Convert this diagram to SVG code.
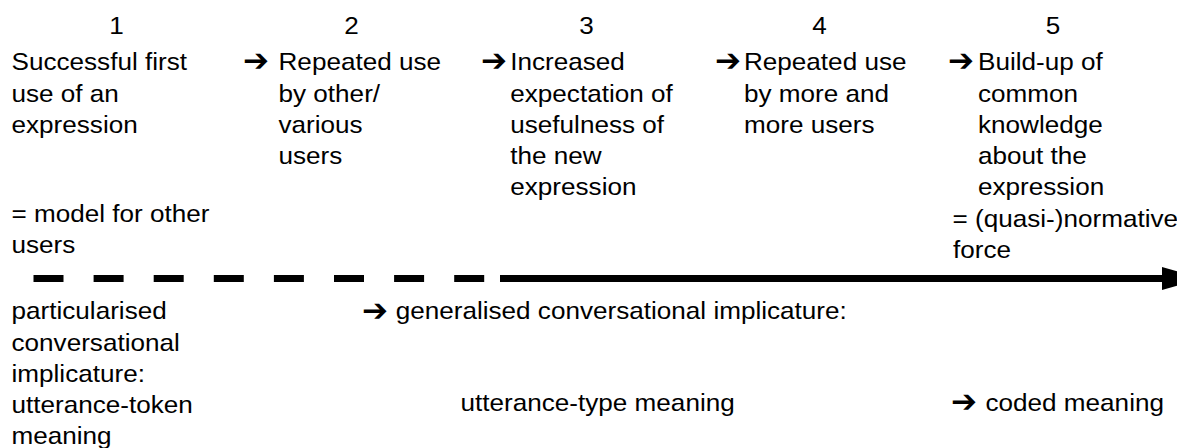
<svg xmlns="http://www.w3.org/2000/svg" width="1177" height="448" viewBox="0 0 1177 448">
<style>
.t{font-family:"Liberation Sans",Arial,sans-serif;font-size:24px;fill:#000}
.n{text-anchor:middle}
.ar{font-family:"DejaVu Sans",sans-serif;font-size:31px;font-weight:bold;fill:#000}
.dash{stroke:#000;stroke-width:7;stroke-dasharray:30 30.1;fill:none}
.solid{stroke:#000;stroke-width:7;fill:none}
</style>
<defs>
<marker id="head" viewBox="0 0 40 23" refX="0" refY="11.5" markerWidth="40" markerHeight="23" markerUnits="userSpaceOnUse" orient="auto">
<path d="M0,0 L40,11.5 L0,23 Z" fill="#000"/>
</marker>
</defs>
<rect width="1177" height="448" fill="#fff"/>

<g id="connectors">
<line class="dash" x1="33.5" y1="278.5" x2="485" y2="278.5"/>
<line class="solid" x1="500" y1="278.5" x2="1162" y2="278.5" marker-end="url(#head)"/>
</g>

<g id="arrows">
<text class="ar" x="243" y="71">➔</text>
<text class="ar" x="481" y="71">➔</text>
<text class="ar" x="715" y="71">➔</text>
<text class="ar" x="948" y="71">➔</text>
<text class="ar" x="362" y="320.5">➔</text>
<text class="ar" x="951" y="412">➔</text>
</g>

<g transform="scale(1.088 1)">
<g id="step1">
<text class="t n" x="107.1" y="34.5">1</text>
<text class="t" x="10.6" y="70.5">Successful first</text>
<text class="t" x="10.6" y="101.8">use of an</text>
<text class="t" x="10.6" y="133">expression</text>
</g>
<g id="step2">
<text class="t n" x="323.1" y="34.5">2</text>
<text class="t" x="256" y="70.5">Repeated use</text>
<text class="t" x="256" y="101.8">by other/</text>
<text class="t" x="256" y="133">various</text>
<text class="t" x="256" y="164.3">users</text>
</g>
<g id="step3">
<text class="t n" x="539.1" y="34.5">3</text>
<text class="t" x="469" y="70.5">Increased</text>
<text class="t" x="469" y="101.8">expectation of</text>
<text class="t" x="469" y="133">usefulness of</text>
<text class="t" x="469" y="164.3">the new</text>
<text class="t" x="469" y="195.5">expression</text>
</g>
<g id="step4">
<text class="t n" x="753.2" y="34.5">4</text>
<text class="t" x="683.8" y="70.5">Repeated use</text>
<text class="t" x="683.8" y="101.8">by more and</text>
<text class="t" x="683.8" y="133">more users</text>
</g>
<g id="step5">
<text class="t n" x="967.8" y="34.5">5</text>
<text class="t" x="898.9" y="70.5">Build-up of</text>
<text class="t" x="898.9" y="101.8">common</text>
<text class="t" x="898.9" y="133">knowledge</text>
<text class="t" x="898.9" y="164.3">about the</text>
<text class="t" x="898.9" y="195.5">expression</text>
</g>
<g id="note-model">
<text class="t" x="10.6" y="222">= model for other</text>
<text class="t" x="10.6" y="253">users</text>
</g>
<g id="note-normative">
<text class="t" x="875.5" y="227">= (quasi-)normative</text>
<text class="t" x="876" y="258">force</text>
</g>
<g id="particularised">
<text class="t" x="10.6" y="319.5">particularised</text>
<text class="t" x="10.6" y="350.8">conversational</text>
<text class="t" x="10.6" y="382">implicature:</text>
<text class="t" x="10.6" y="413.3">utterance-token</text>
<text class="t" x="10.6" y="444.5">meaning</text>
</g>
<g id="generalised">
<text class="t" x="363.7" y="319.5">generalised conversational implicature:</text>
</g>
<g id="utterance-type">
<text class="t" x="423.3" y="411">utterance-type meaning</text>
</g>
<g id="coded">
<text class="t" x="905.8" y="411">coded meaning</text>
</g>
</g>
</svg>
